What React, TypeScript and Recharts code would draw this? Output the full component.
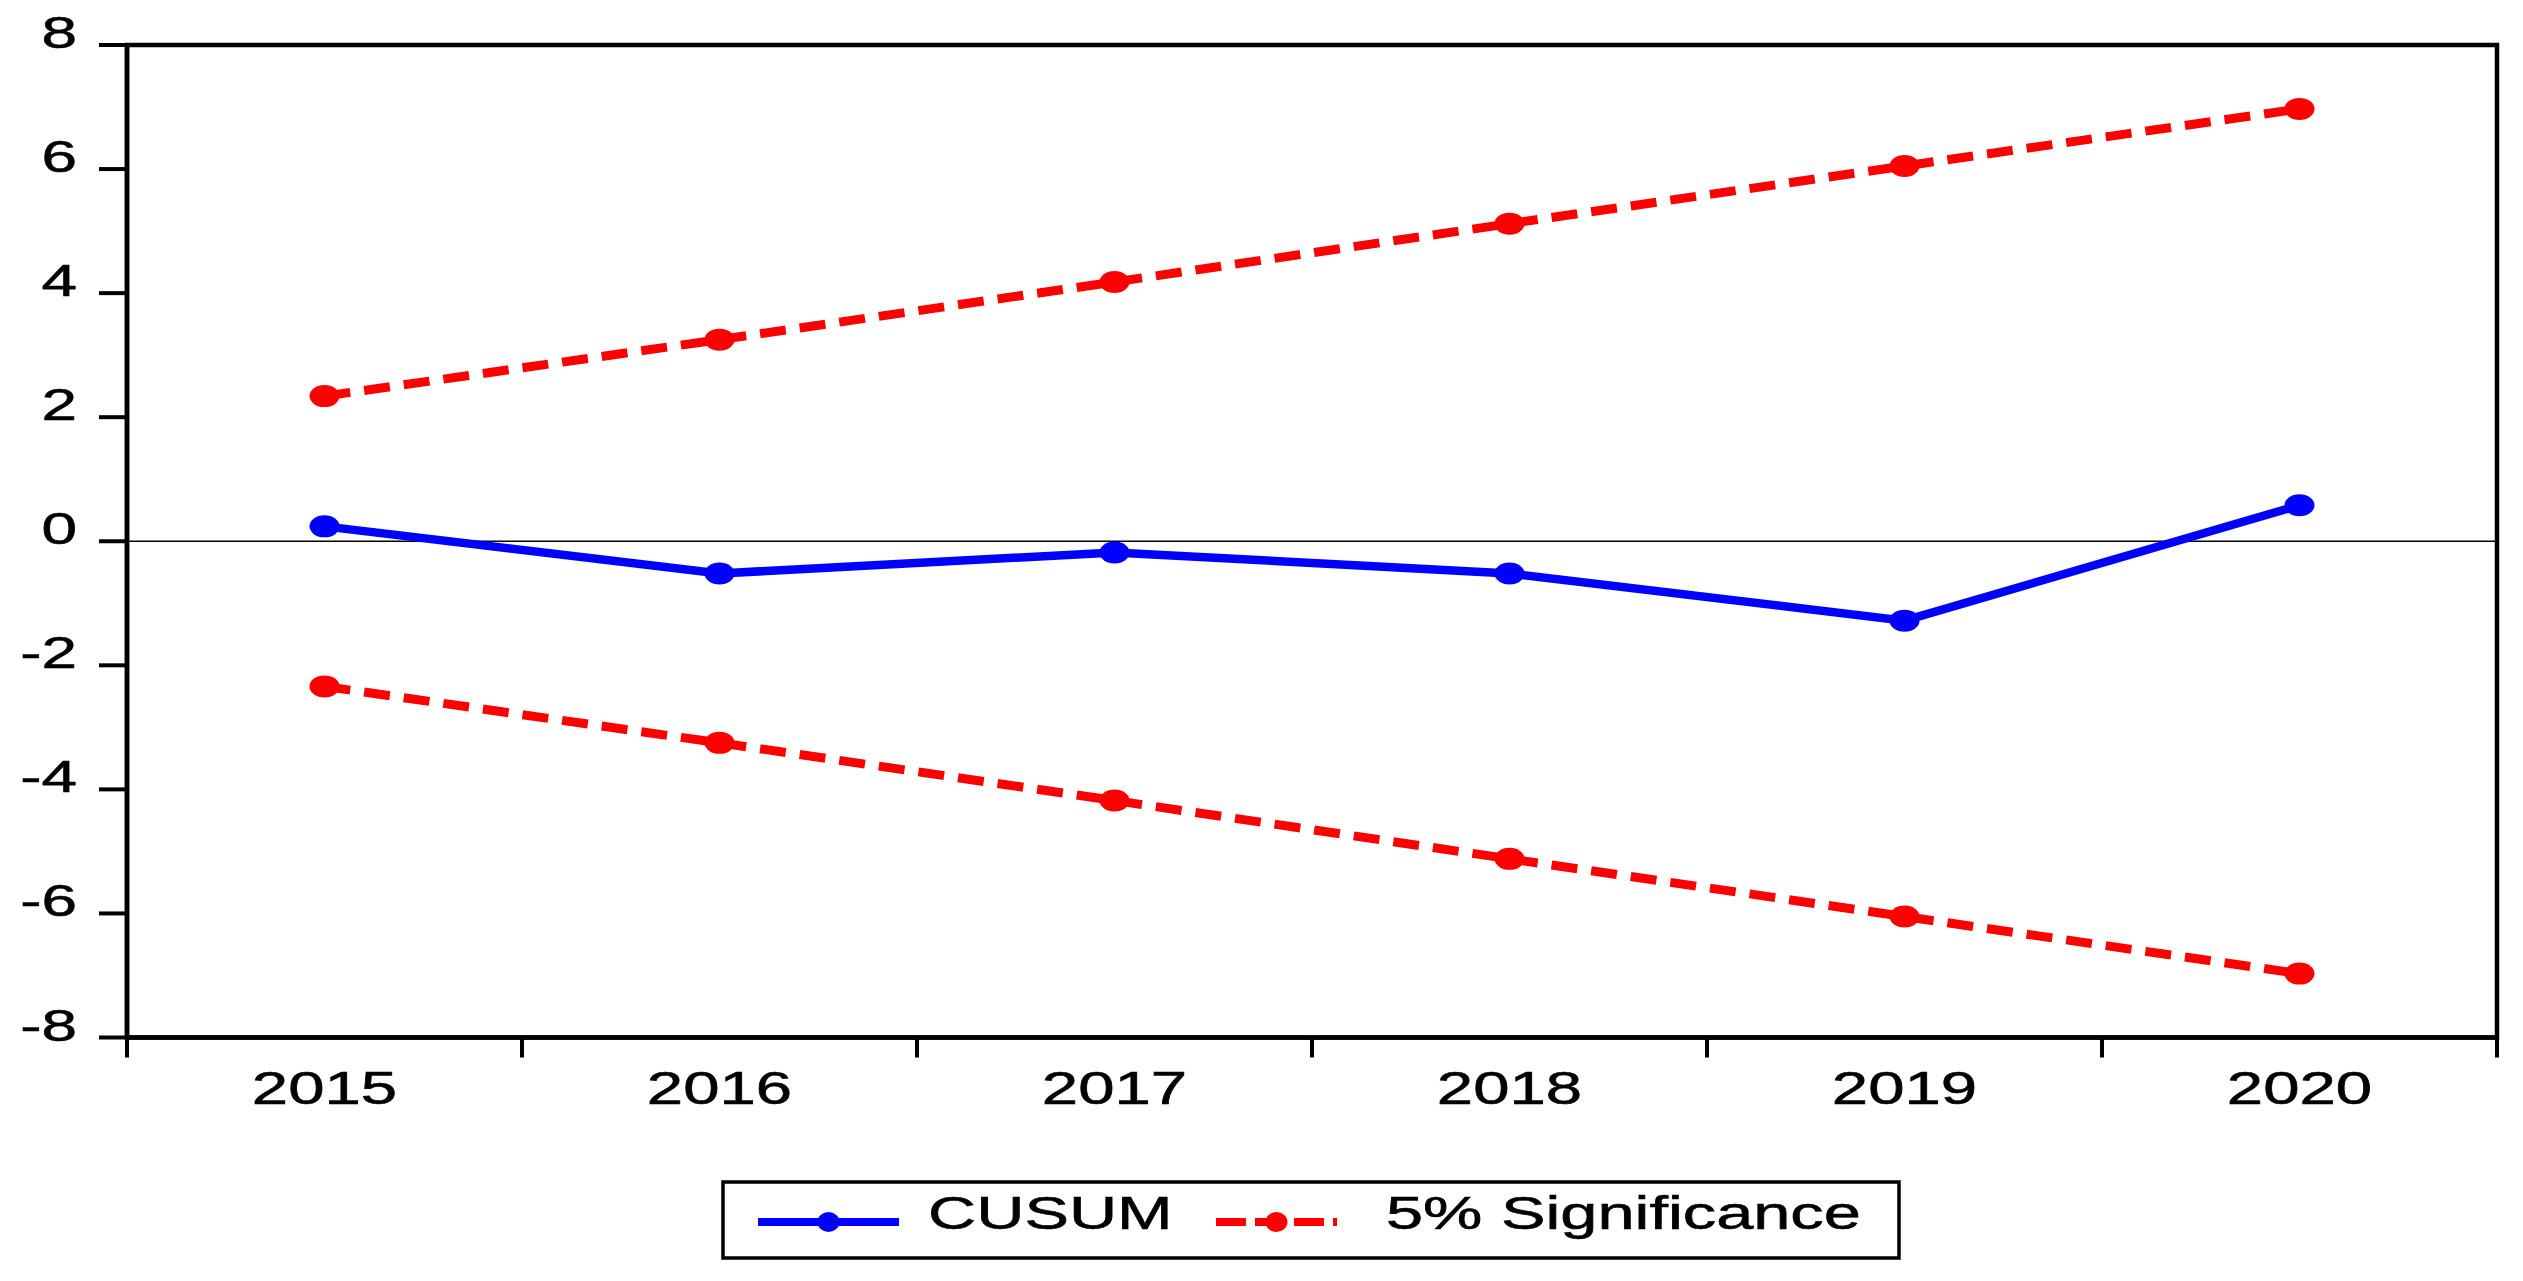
import React from "react";
import { LineChart, Line, XAxis, YAxis, ReferenceLine, ReferenceArea } from "recharts";

const years = [2015, 2016, 2017, 2018, 2019, 2020];
const cusum = [0.24, -0.52, -0.18, -0.52, -1.28, 0.58];
const upper5 = [2.34, 3.25, 4.18, 5.12, 6.05, 6.97];
const lower5 = [-2.34, -3.25, -4.18, -5.12, -6.05, -6.97];
const yTicks = [-8, -6, -4, -2, 0, 2, 4, 6, 8];
const edgeTicks = [2014.5, 2015.5, 2016.5, 2017.5, 2018.5, 2019.5, 2020.5];

const legendItems = [
  { name: "CUSUM", color: "#0000FF", dash: undefined as string | undefined },
  { name: "5% Significance", color: "#FF0000", dash: "30 9" },
];

const data = years.map((y, i) => ({ year: y, cusum: cusum[i], upper: upper5[i], lower: lower5[i] }));

const W = 2523;
const H = 1281;
const FONT = "'Liberation Sans', Arial, sans-serif";
const SX = 1.42; // the source image is stretched horizontally

const YTick = (p: any) => (
  <g transform={`translate(${p.x},${p.y + 3}) scale(${SX},1)`}>
    <text x={0} y={0} textAnchor="end" fontSize={45} fontFamily={FONT} fill="#000" stroke="#000" strokeWidth={0.6}>
      {p.payload.value}
    </text>
  </g>
);

const YearTick = (p: any) => (
  <g transform={`translate(${p.x},${p.y}) scale(${SX},1)`}>
    <text x={0} y={0} textAnchor="middle" fontSize={46} fontFamily={FONT} fill="#000" stroke="#000" strokeWidth={0.6}>
      {p.payload.value}
    </text>
  </g>
);

const ellipseDot = (color: string) => (p: any) => (
  <ellipse key={`d-${p.index}`} cx={p.cx} cy={p.cy} rx={15} ry={11} fill={color} />
);

function LegendBox() {
  const lines = [
    { x1: 758, x2: 899, textX: 928 },
    { x1: 1216, x2: 1337, textX: 1386 },
  ];
  return (
    <svg width={W} height={H} style={{ position: "absolute", left: 0, top: 0, pointerEvents: "none" }}>
      <rect x={723} y={1182} width={1176} height={76} fill="none" stroke="#000" strokeWidth={3.5} />
      {legendItems.map((it, i) => {
        const l = lines[i];
        return (
          <g key={it.name}>
            <line x1={l.x1} x2={l.x2} y1={1222} y2={1222} stroke={it.color} strokeWidth={8} strokeDasharray={it.dash} />
            <ellipse cx={(l.x1 + l.x2) / 2} cy={1222} rx={11} ry={10} fill={it.color} />
            <g transform={`translate(${l.textX},1229) scale(${SX},1)`}>
              <text x={0} y={0} fontSize={47} fontFamily={FONT} fill="#000" stroke="#000" strokeWidth={0.6}>{it.name}</text>
            </g>
          </g>
        );
      })}
    </svg>
  );
}

export default function App() {
  return (
    <div style={{ position: "absolute", left: 0, top: 0, width: W, height: H, background: "#fff" }}>
      <LineChart width={W} height={H} data={data} margin={{ top: 45, right: 26, left: 0, bottom: 143.5 }}>
        <XAxis
          xAxisId="edges"
          type="number"
          dataKey="year"
          domain={[2014.5, 2020.5]}
          ticks={edgeTicks}
          interval={0}
          height={1}
          tickSize={20}
          tickFormatter={() => ""}
          axisLine={{ stroke: "#000", strokeWidth: 4.5 }}
          tickLine={{ stroke: "#000", strokeWidth: 4 }}
        />
        <XAxis
          xAxisId="years"
          type="number"
          dataKey="year"
          domain={[2014.5, 2020.5]}
          ticks={years}
          interval={0}
          height={99}
          tickSize={0}
          tickMargin={65}
          axisLine={false}
          tickLine={false}
          tick={YearTick}
        />
        <YAxis
          yAxisId="left"
          type="number"
          domain={[-8, 8]}
          ticks={yTicks}
          interval={0}
          width={127}
          tickSize={28}
          tickMargin={22}
          axisLine={{ stroke: "#000", strokeWidth: 4.5 }}
          tickLine={{ stroke: "#000", strokeWidth: 4 }}
          tick={YTick}
        />
        <ReferenceArea xAxisId="years" yAxisId="left" x1={2014.5} x2={2020.5} y1={-8} y2={8}
          fill="none" fillOpacity={0} stroke="#000" strokeWidth={4.5} ifOverflow="visible" />
        <ReferenceLine xAxisId="years" yAxisId="left" y={0} stroke="#000" strokeWidth={1.5} />
        <Line xAxisId="years" yAxisId="left" type="linear" dataKey="upper" stroke="#FF0000" strokeWidth={9}
          strokeDasharray="26 14" dot={ellipseDot("#FF0000")} activeDot={false} isAnimationActive={false} />
        <Line xAxisId="years" yAxisId="left" type="linear" dataKey="lower" stroke="#FF0000" strokeWidth={9}
          strokeDasharray="26 14" dot={ellipseDot("#FF0000")} activeDot={false} isAnimationActive={false} />
        <Line xAxisId="years" yAxisId="left" type="linear" dataKey="cusum" stroke="#0000FF" strokeWidth={8.5}
          dot={ellipseDot("#0000FF")} activeDot={false} isAnimationActive={false} />
      </LineChart>
      <LegendBox />
    </div>
  );
}
